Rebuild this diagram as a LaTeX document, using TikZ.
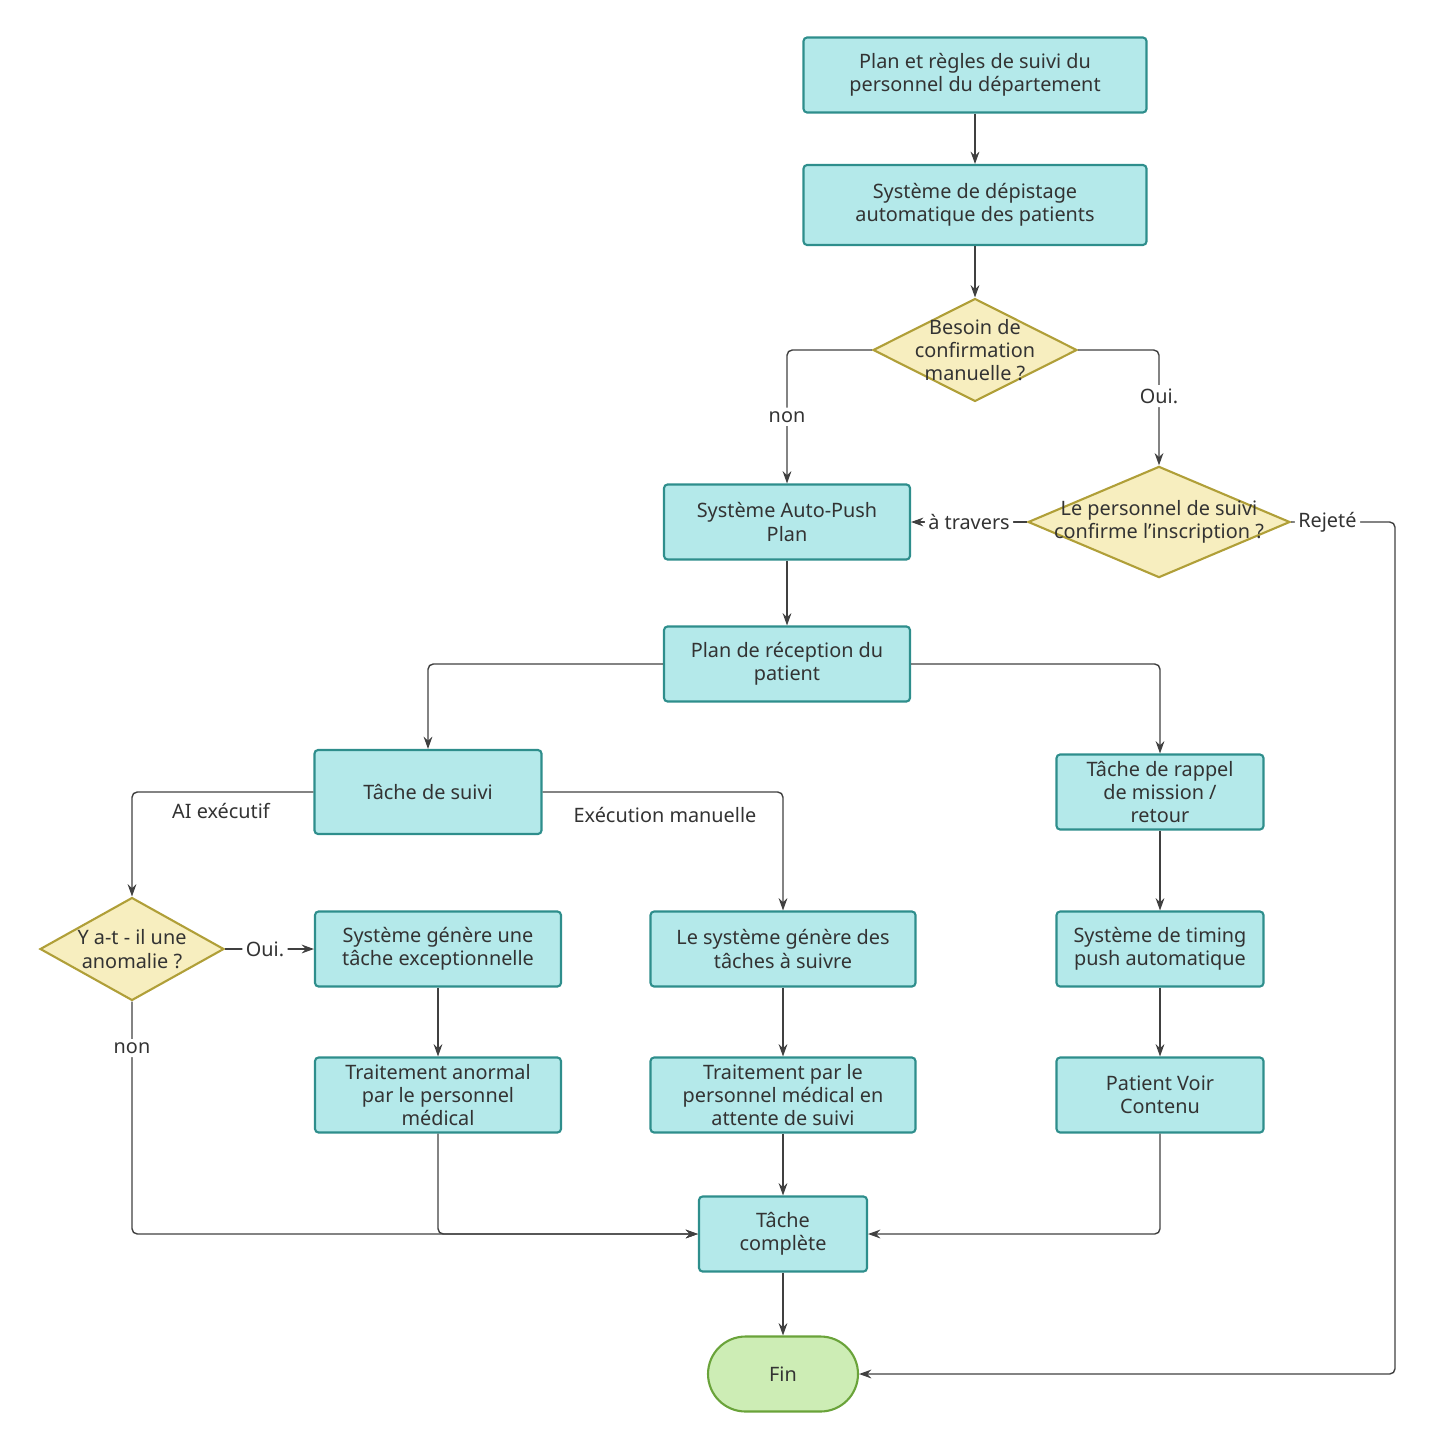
\documentclass[tikz,border=0pt]{standalone}
\usepackage{fontspec}
\setmainfont{Noto Sans}
\usetikzlibrary{shapes.geometric,arrows.meta,positioning}
\definecolor{boxfill}{HTML}{B4E9EA}
\definecolor{boxline}{HTML}{2E8E8C}
\definecolor{decfill}{HTML}{F7EEBF}
\definecolor{decline}{HTML}{B09F38}
\definecolor{endfill}{HTML}{CDEDB5}
\definecolor{endline}{HTML}{6AA33A}
\begin{document}
\begin{tikzpicture}
[   x=0.02cm, y=-0.02cm,
    every node/.style={font=\fontsize{11.3}{13.3}\selectfont, text=black!80},
    box/.style={draw=boxline, fill=boxfill, line width=1.2pt, rounded corners=2pt, align=center, inner sep=0pt},
    dec/.style={draw=decline, fill=decfill, line width=1.2pt, diamond, aspect=2, align=center, inner sep=-7pt},
    arr/.style={-{Stealth[length=7pt,width=5pt]}, draw=black!75, line width=0.8pt, rounded corners=3pt},
    lbl/.style={fill=white, inner sep=2pt},
]
    \useasboundingbox (0,0) rectangle (1431,1449);
    \node[box, minimum width=6.86cm, minimum height=1.5cm] (plan) at (975,75) {Plan et règles de suivi du\\personnel du département};
    \node[box, minimum width=6.86cm, minimum height=1.6cm] (ecran) at (975,205) {Système de dépistage\\automatique des patients};
    \node[dec, minimum width=4.08cm, minimum height=2.06cm] (besoin) at (975,350) {Besoin de\\confirmation\\manuelle ?};
    \node[box, minimum width=4.92cm, minimum height=1.5cm] (autopush) at (787,522) {Système Auto-Push\\Plan};
    \node[dec, minimum width=5.24cm, minimum height=2.1cm] (confirme) at (1159,522) {Le personnel de suivi\\confirme l'inscription ?};
    \node[box, minimum width=4.92cm, minimum height=1.5cm] (reception) at (787,664) {Plan de réception du\\patient};
    \node[box, minimum width=4.54cm, minimum height=1.68cm] (tache) at (428,792) {Tâche de suivi};
    \node[box, minimum width=4.14cm, minimum height=1.5cm] (rappel) at (1160,792) {Tâche de rappel\\de mission /\\retour};
    \node[dec, minimum width=3.68cm, minimum height=2.06cm] (anomalie) at (132,949) {Y a-t - il une\\anomalie ?};
    \node[box, minimum width=4.92cm, minimum height=1.5cm] (except) at (438,949) {Système génère une\\tâche exceptionnelle};
    \node[box, minimum width=5.3cm, minimum height=1.5cm] (genere) at (783,949) {Le système génère des\\tâches à suivre};
    \node[box, minimum width=4.14cm, minimum height=1.5cm] (timing) at (1160,949) {Système de timing\\push automatique};
    \node[box, minimum width=4.92cm, minimum height=1.5cm] (anormal) at (438,1095) {Traitement anormal\\par le personnel\\médical};
    \node[box, minimum width=5.3cm, minimum height=1.5cm] (attente) at (783,1095) {Traitement par le\\personnel médical en\\attente de suivi};
    \node[box, minimum width=4.14cm, minimum height=1.5cm] (voir) at (1160,1095) {Patient Voir\\Contenu};
    \node[box, minimum width=3.36cm, minimum height=1.5cm] (complete) at (783,1234) {Tâche\\complète};
    \node[draw=endline, fill=endfill, line width=1.2pt, rounded corners=0.75cm, minimum width=3cm, minimum height=1.5cm] (fin) at (783,1374) {Fin};

    \draw[arr] (plan) -- (ecran);
    \draw[arr] (ecran) -- (besoin);
    \draw[arr] (besoin.west) -| node[lbl, pos=0.75]{non} (autopush.north);
    \draw[arr] (besoin.east) -| node[lbl, pos=0.7]{Oui.} (confirme.north);
    \draw[arr] (confirme.west) -- node[lbl]{à travers} (autopush.east);
    \draw[arr] (confirme.east) -- node[lbl, pos=0.35]{Rejeté} (1395,522) |- (fin.east);
    \draw[arr] (autopush) -- (reception);
    \draw[arr] (reception.west) -| (tache.north);
    \draw[arr] (reception.east) -| (rappel.north);
    \draw[arr] (tache.west) -| (anomalie.north);
    \node at (221,811) {AI exécutif};
    \draw[arr] (tache.east) -| (genere.north);
    \node at (665,815) {Exécution manuelle};
    \draw[arr] (anomalie.east) -- node[lbl, pos=0.45]{Oui.} (except.west);
    \draw[arr] (anomalie.south) -- node[lbl, pos=0.2]{non} (132,1234) -- (complete.west);
    \draw[arr] (except) -- (anormal);
    \draw[arr] (genere) -- (attente);
    \draw[arr] (rappel) -- (timing);
    \draw[arr] (timing) -- (voir);
    \draw[arr] (anormal.south) |- (complete.west);
    \draw[arr] (attente) -- (complete);
    \draw[arr] (voir.south) |- (complete.east);
    \draw[arr] (complete) -- (fin);
\end{tikzpicture}
\end{document}
